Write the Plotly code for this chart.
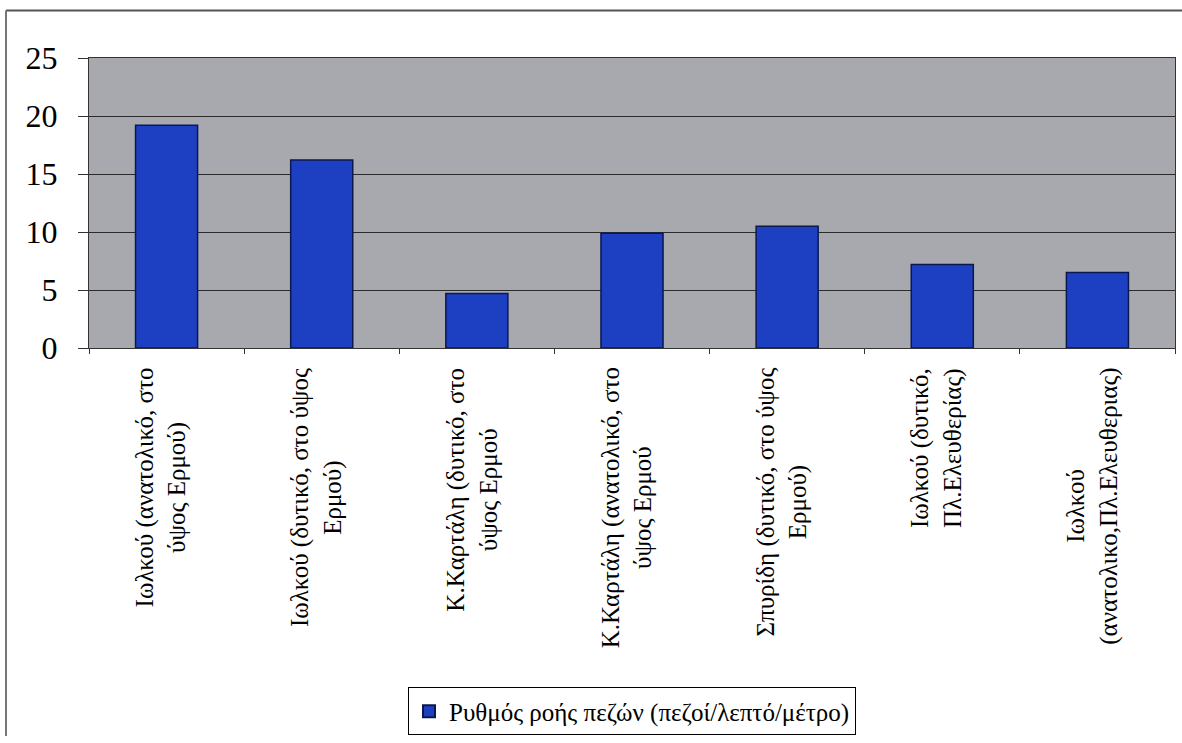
import plotly.graph_objects as go

categories = [
    "Ιωλκού (ανατολικό, στο<br>ύψος Ερμού)",
    "Ιωλκού (δυτικό, στο ύψος<br>Ερμού)",
    "Κ.Καρτάλη (δυτικό, στο<br>ύψος Ερμού",
    "Κ.Καρτάλη (ανατολικό, στο<br>ύψος Ερμού",
    "Σπυρίδη (δυτικό, στο ύψος<br>Ερμού)",
    "Ιωλκού (δυτικό,<br>Πλ.Ελευθερίας)",
    "Ιωλκού<br>(ανατολικο,Πλ.Ελευθεριας)",
]
values = [19.2, 16.2, 4.7, 9.9, 10.5, 7.2, 6.5]
series_name = "Ρυθμός ροής πεζών (πεζοί/λεπτό/μέτρο)"
y_ticks = [0, 5, 10, 15, 20, 25]

W, H = 1182, 743
L, R, T, B = 89, 7, 58, 392
pw, ph = W - L - R, H - T - B

def px_x(x):
    return (x - L) / pw

def px_y(y):
    return (H - B - y) / ph

serif = "Liberation Serif, Times New Roman, serif"

fig = go.Figure()
fig.add_trace(go.Bar(
    x=categories, y=values, name=series_name,
    marker=dict(color="#1d3fc2", line=dict(color="#0b1850", width=1.5)),
    width=0.4, showlegend=True,
))

annotations = [
    dict(x=c, xref="x", y=px_y(369), yref="paper", text=c,
         textangle=-90, showarrow=False, align="center",
         xanchor="center", yanchor="top", xshift=-5,
         font=dict(family=serif, size=25, color="black"))
    for c in categories
]

fig.update_layout(
    width=W, height=H,
    margin=dict(l=L, r=R, t=T, b=B),
    paper_bgcolor="white",
    plot_bgcolor="#a8a9ae",
    font=dict(family=serif, color="black"),
    showlegend=True,
    legend=dict(
        orientation="h", x=0.5, xanchor="center",
        y=px_y(694), yanchor="top",
        bordercolor="black", borderwidth=1, bgcolor="white",
        font=dict(family=serif, size=25),
        itemsizing="constant",
    ),
    xaxis=dict(
        showticklabels=False,
        showline=True, linecolor="#333", linewidth=1, mirror=True,
        ticks="outside", ticklen=5, tickcolor="#333",
        tickson="boundaries", showgrid=False,
    ),
    yaxis=dict(
        range=[0, 25], tickvals=y_ticks,
        tickfont=dict(family=serif, size=32),
        showline=True, linecolor="#333", linewidth=1, mirror=True,
        ticks="outside", ticklen=10, tickcolor="#333",
        showgrid=True, gridcolor="#2b2b2b", gridwidth=1.2,
        zeroline=False,
        ticklabelstandoff=14,
    ),
    annotations=annotations,
    shapes=[
        dict(type="line", xref="paper", yref="paper",
             x0=px_x(6), x1=px_x(1182), y0=px_y(10), y1=px_y(10),
             line=dict(color="#555", width=2)),
        dict(type="line", xref="paper", yref="paper",
             x0=px_x(6), x1=px_x(6), y0=px_y(10), y1=px_y(743),
             line=dict(color="#777", width=2)),
    ],
)

fig.write_html("out.html")
